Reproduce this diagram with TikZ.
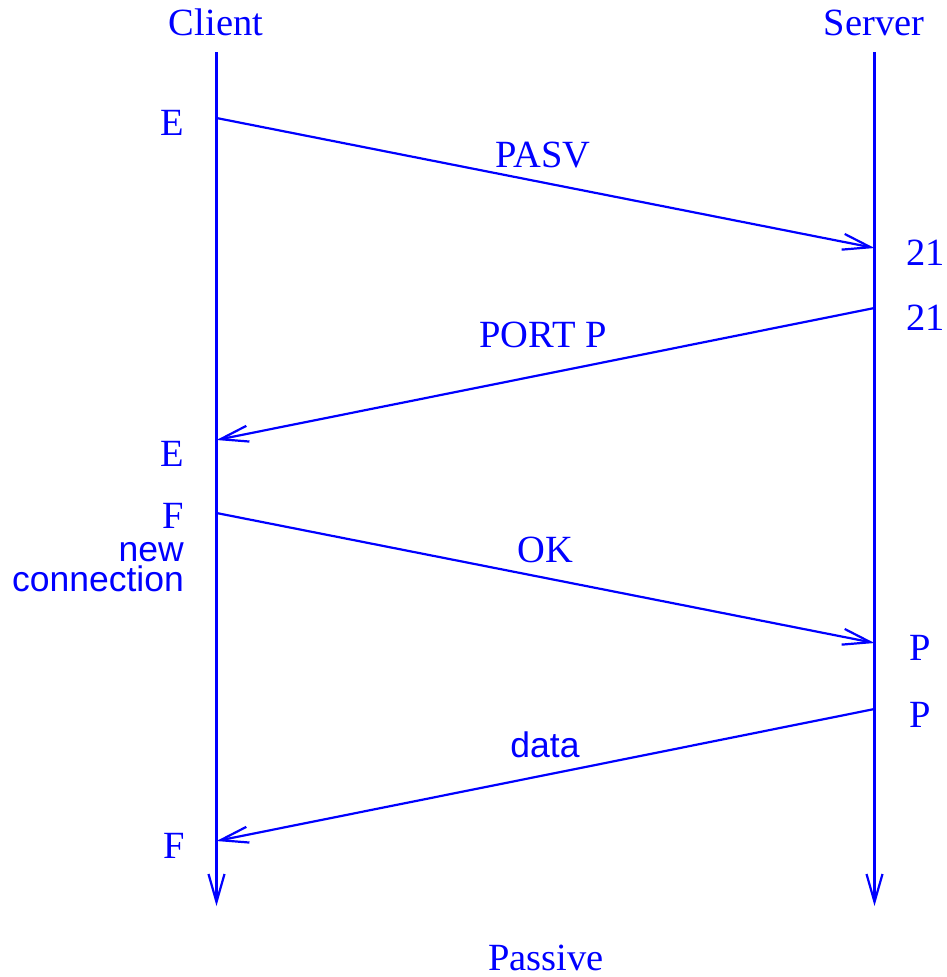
\documentclass[tikz,border=0pt]{standalone}
\usepackage{fontspec}
\setmainfont{Liberation Serif}
\newfontfamily\lsans{Liberation Sans}
\usetikzlibrary{arrows.meta}
\definecolor{pureblue}{RGB}{0,0,255}
\begin{document}
\begin{tikzpicture}[x=1pt,y=-1pt,
  lbl/.style={text=pureblue,inner sep=0pt,font=\fontsize{38.5}{40}\selectfont},
  slbl/.style={text=pureblue,inner sep=0pt,font=\lsans\fontsize{35.5}{30}\selectfont},
  life/.style={draw=pureblue,line width=2.2pt,-{Straight Barb[length=28pt,width=16pt]}},
  msg/.style={draw=pureblue,line width=2.2pt,-{Straight Barb[length=28pt,width=16pt]}}]
\useasboundingbox (0,0) rectangle (946,977);
% lifelines
\coordinate (ctop) at (216.5,52);
\coordinate (cbot) at (216.5,906);
\coordinate (stop) at (874.5,52);
\coordinate (sbot) at (874.5,906);
\draw[life] (ctop) -- (cbot);
\draw[life] (stop) -- (sbot);
% message end points
\coordinate (a1) at (216.5,118);
\coordinate (b1) at (874.5,248);
\coordinate (a2) at (874.5,308);
\coordinate (b2) at (216.5,440);
\coordinate (a3) at (216.5,513);
\coordinate (b3) at (874.5,643);
\coordinate (a4) at (874.5,709);
\coordinate (b4) at (216.5,841);
\draw[msg] (a1) -- (b1);
\draw[msg] (a2) -- (b2);
\draw[msg] (a3) -- (b3);
\draw[msg] (a4) -- (b4);
% titles
\node[lbl,anchor=base] (client) at (216,35) {Client};
\node[lbl,anchor=base] (server) at (874,35) {Server};
% message labels
\node[lbl,anchor=base] (pasv) at (543,167) {PASV};
\node[lbl,anchor=base] (port) at (543,347) {PORT P};
\node[lbl,anchor=base] (ok) at (545,562) {OK};
\node[slbl,anchor=base] (data) at (545,757) {data};
% left labels
\node[lbl,anchor=base east] (e1) at (184,135) {E};
\node[lbl,anchor=base east] (e2) at (184,466) {E};
\node[lbl,anchor=base east] (f1) at (184,528) {F};
\node[slbl,anchor=north east,align=right] (newc) at (184,542) {new\\connection};
\node[lbl,anchor=base east] (f2) at (185,858) {F};
% right labels
\node[lbl,anchor=base west] (p21a) at (906,265) {21};
\node[lbl,anchor=base west] (p21b) at (906,330) {21};
\node[lbl,anchor=base west] (pp1) at (909,660) {P};
\node[lbl,anchor=base west] (pp2) at (909,727) {P};
% caption
\node[lbl,anchor=base] (passive) at (546,970) {Passive};
\end{tikzpicture}
\end{document}
